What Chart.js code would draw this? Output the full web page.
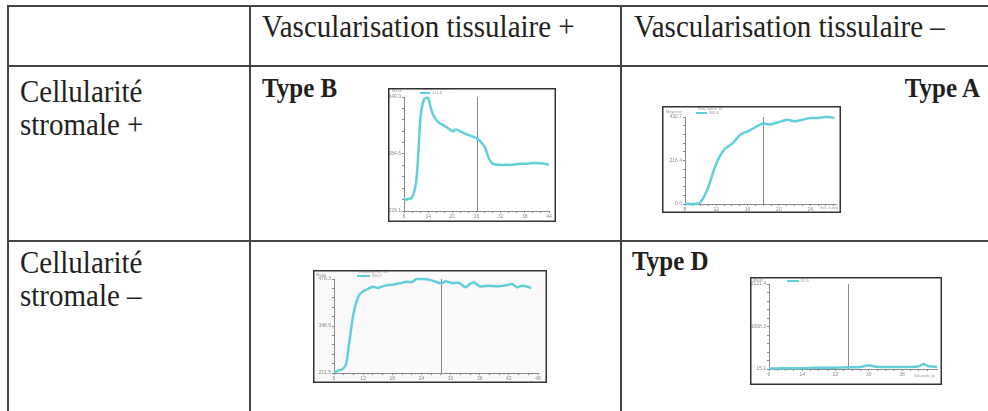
<!DOCTYPE html>
<html>
<head>
<meta charset="utf-8">
<script src="https://cdn.jsdelivr.net/npm/chart.js@4.4.1/dist/chart.umd.min.js"></script>
<style>
  body { margin: 0; background: #fff; }
  #page { position: relative; width: 988px; height: 411px; overflow: hidden; background: #fff; }
  .hl, .vl { position: absolute; background: #444; }
  .hl { left: 7px; right: 0; height: 2px; }
  .vl { top: 5px; bottom: 0; width: 2px; }
  .txt {
    position: absolute; white-space: nowrap; color: #231f20;
    font-family: "Liberation Serif", "Times New Roman", serif;
    font-size: 29px; line-height: 30.3px;
    transform: scaleY(1.09); transform-origin: top left;
  }
  .type {
    position: absolute; white-space: nowrap; color: #231f20;
    font-family: "Liberation Serif", "Times New Roman", serif;
    font-size: 25px; font-weight: bold; line-height: 25px;
    transform: scaleY(1.1); transform-origin: top left;
  }
  canvas { position: absolute; }
</style>
</head>
<body>
<div id="page">
  <div class="hl" style="top:5px"></div>
  <div class="hl" style="top:65px"></div>
  <div class="hl" style="top:240px"></div>
  <div class="vl" style="left:7px"></div>
  <div class="vl" style="left:249px"></div>
  <div class="vl" style="left:620px"></div>

  <div class="txt" style="left:262px; top:10px">Vascularisation tissulaire +</div>
  <div class="txt" style="left:634px; top:10px">Vascularisation tissulaire –</div>
  <div class="txt" style="left:20px; top:75px">Cellularité<br>stromale +</div>
  <div class="txt" style="left:20px; top:246px">Cellularité<br>stromale –</div>

  <div class="type" style="left:262px; top:74px">Type B</div>
  <div class="type" style="right:8px; top:74px; transform-origin: top right">Type A</div>
  <div class="type" style="left:632px; top:247px">Type D</div>

  <canvas id="typeB" width="168" height="134" style="left:388px; top:88px"></canvas>
  <canvas id="typeA" width="179" height="107" style="left:662px; top:106px"></canvas>
  <canvas id="typeC" width="234" height="113" style="left:313px; top:270px"></canvas>
  <canvas id="typeD" width="192" height="108" style="left:750px; top:277px"></canvas>
</div>

<script>
// Enhancement curves (mean signal vs time) for each panel
const typeBTime = [8, 9.9, 11, 11.6, 12.1, 13, 14, 14.6, 15.3, 16.5, 18.6, 20.1, 21, 22.7, 24.4, 26, 26.8, 28.1, 29.1, 30.1, 31.8, 33.5, 35.1, 36.7, 38.4, 40, 42.5, 44];
const typeBMean = [240, 242, 257, 288, 320, 338, 339, 330, 322, 315.5, 310.6, 306.7, 308.4, 305.1, 302.5, 300, 297.6, 291, 280, 275, 274, 274, 274, 275, 275, 275.7, 275.4, 274];
const typeBXTicks = [8, 14, 20, 26, 32, 38, 44];
const typeBYTicks = [229.1, 284.6, 340.0];
const typeBMarker = 26;

const typeATime = [8, 9.4, 10, 10.9, 11.9, 13, 14.1, 15.1, 16, 16.8, 18, 18.8, 19.4, 20.3, 21.1, 22, 23, 24, 25, 25.8, 26.5, 27.1];
const typeAMean = [0, 0, 10, 76, 192, 270, 303, 346, 361, 378, 400, 396, 400, 411, 419, 411, 419, 428, 428, 433, 433, 428];
const typeAXTicks = [8, 12, 16, 20, 24];
const typeAYTicks = [0, 216.4, 432.7];
const typeAMarker = 18;

const typeCTime = [6, 6.9, 7.8, 8.5, 9.1, 10, 11, 12, 13.4, 14, 15.1, 16.4, 18, 19.5, 20.9, 21.9, 23, 24.6, 26.3, 28, 29, 30.1, 31.8, 33, 33.8, 34.8, 36, 37.9, 39.6, 41.8, 42.7, 43.7, 44.7, 45.8, 46.6];
const typeCMean = [223, 227.8, 232.3, 245.9, 300, 381.4, 428.4, 442.9, 451.9, 455.5, 451.9, 458.2, 461, 464.6, 469.1, 467.3, 476.3, 476.3, 471.8, 464.6, 470, 465.5, 465.5, 453.7, 461, 467.3, 456.4, 458.2, 456.4, 460, 462.7, 453.7, 458.2, 455.5, 451.9];
const typeCXTicks = [6, 12, 18, 24, 30, 36, 42, 48];
const typeCYTicks = [221.5, 348.9, 476.3];
const typeCMarker = 28.1;

const typeDTime = [6, 9.1, 12.3, 15.5, 18.7, 21.9, 25.1, 28, 30, 31.6, 34.8, 38, 40.4, 42, 43.2, 44.4, 46.4];
const typeDMean = [23, 31, 31, 40, 48, 48, 56, 65, 106, 73, 65, 65, 65, 81, 139, 81, 65];
const typeDXTicks = [6, 14, 22, 30, 38];
const typeDYTicks = [15.2, 1068.3, 2121.4];
const typeDMarker = 25.1;

const CURVE = '#62cfda';
const SANS = '"Liberation Sans", Arial, sans-serif';

// major ticks get a label, minor ones only a tick mark
function tickList(majors, parts, max) {
  const out = [];
  for (let i = 0; i < majors.length; i++) {
    out.push({ value: majors[i], lbl: String(majors[i]) });
    const next = i < majors.length - 1 ? majors[i + 1] : null;
    const step = next !== null ? (next - majors[i]) / parts : (majors[i] - majors[i - 1]) / parts;
    for (let k = 1; k < parts; k++) {
      const v = majors[i] + step * k;
      if (next === null && v > max + 1e-6) break;
      out.push({ value: v, lbl: '' });
    }
  }
  return out;
}

// frame, mean label, mini legend and the injection marker
const panelDecor = {
  id: 'panelDecor',
  beforeDraw(chart, args, o) {
    const ctx = chart.ctx;
    ctx.save();
    ctx.fillStyle = o.background;
    ctx.fillRect(0, 0, chart.width, chart.height);
    ctx.restore();
  },
  beforeDatasetsDraw(chart, args, o) {
    const ctx = chart.ctx, area = chart.chartArea;
    const x = chart.scales.x.getPixelForValue(o.marker);
    ctx.save();
    ctx.strokeStyle = '#8a8a8a';
    ctx.lineWidth = 1;
    ctx.beginPath();
    ctx.moveTo(Math.round(x) + 0.5, area.top);
    ctx.lineTo(Math.round(x) + 0.5, area.bottom);
    ctx.stroke();
    ctx.restore();
  },
  afterDraw(chart, args, o) {
    const ctx = chart.ctx;
    ctx.save();
    ctx.font = '4px ' + SANS;
    ctx.fillStyle = '#999';
    ctx.textBaseline = 'middle';
    ctx.fillText(o.title, o.titleX, o.titleY);
    ctx.fillText(o.seriesName, o.legendX + 2, o.legendY - 4);
    ctx.fillText(o.seriesValue, o.legendX + o.legendW + 2, o.legendY);
    if (o.unit) ctx.fillText(o.unit, o.unitX, o.unitY);
    ctx.strokeStyle = CURVE;
    ctx.lineWidth = 2;
    ctx.beginPath();
    ctx.moveTo(o.legendX, o.legendY);
    ctx.lineTo(o.legendX + o.legendW, o.legendY);
    ctx.stroke();
    ctx.strokeStyle = '#333';
    ctx.lineWidth = 1.5;
    ctx.strokeRect(0.75, 0.75, chart.width - 1.5, chart.height - 1.5);
    ctx.restore();
  }
};

function makePanel(id, time, mean, xTicks, yTicks, xMax, cfg) {
  const axisFont = { size: 5, family: SANS };
  return new Chart(document.getElementById(id), {
    type: 'line',
    data: {
      datasets: [{
        data: time.map((t, i) => ({ x: t, y: mean[i] })),
        borderColor: CURVE,
        borderWidth: 2.5,
        pointRadius: 0,
        tension: 0.25,
        clip: false
      }]
    },
    options: {
      responsive: false,
      animation: false,
      devicePixelRatio: 1,
      layout: { padding: { top: cfg.top, right: cfg.right, left: 0, bottom: 0 } },
      plugins: {
        legend: { display: false },
        tooltip: { enabled: false },
        panelDecor: cfg.decor
      },
      scales: {
        x: {
          type: 'linear',
          bounds: 'data',
          min: xTicks[0],
          max: xMax,
          afterBuildTicks: s => { s.ticks = tickList(xTicks, cfg.xParts, xMax); },
          afterFit: s => { s.height = cfg.xHeight; },
          ticks: {
            autoSkip: false, maxRotation: 0, padding: 1,
            font: axisFont, color: '#8a8a8a',
            callback: (v, i, t) => t[i].lbl
          },
          grid: { drawOnChartArea: false, tickLength: 2, color: '#8a8a8a' },
          border: { color: '#8a8a8a' }
        },
        y: {
          type: 'linear',
          bounds: 'data',
          min: yTicks[0],
          max: yTicks[yTicks.length - 1],
          afterBuildTicks: s => {
            s.ticks = tickList(yTicks, 5, yTicks[yTicks.length - 1]).map(t => ({
              value: t.value, lbl: t.lbl ? Number(t.value).toFixed(1) : ''
            }));
          },
          afterFit: s => { s.width = cfg.yWidth; },
          ticks: {
            autoSkip: false, padding: 1,
            font: axisFont, color: '#8a8a8a',
            callback: (v, i, t) => t[i].lbl
          },
          grid: { drawOnChartArea: false, tickLength: 2, color: '#8a8a8a' },
          border: { color: '#8a8a8a' }
        }
      }
    },
    plugins: [panelDecor]
  });
}

makePanel('typeB', typeBTime, typeBMean, typeBXTicks, typeBYTicks, 44, {
  top: 9, right: 7, yWidth: 16, xHeight: 11, xParts: 3,
  decor: {
    background: '#ffffff', marker: typeBMarker,
    title: 'Mean', titleX: 4, titleY: 3,
    seriesName: 'Sample Ref. 16', seriesValue: '413.6', legendX: 32, legendY: 5, legendW: 10
  }
});

makePanel('typeA', typeATime, typeAMean, typeAXTicks, typeAYTicks, 27.3, {
  top: 11, right: 5, yWidth: 23, xHeight: 9, xParts: 4,
  decor: {
    background: '#ffffff', marker: typeAMarker,
    title: 'Moyenne', titleX: 4, titleY: 6,
    seriesName: 'Res. value 16', seriesValue: '385.6', legendX: 34, legendY: 7, legendW: 11,
    unit: 'Sec. (unit)', unitX: 158, unitY: 102
  }
});

makePanel('typeC', typeCTime, typeCMean, typeCXTicks, typeCYTicks, 48, {
  top: 9, right: 9, yWidth: 21, xHeight: 10, xParts: 3,
  decor: {
    background: '#fbf9f9', marker: typeCMarker,
    title: 'Mean', titleX: 3, titleY: 5,
    seriesName: 'Reading Ref. 28', seriesValue: '460.7', legendX: 44, legendY: 6, legendW: 13
  }
});

makePanel('typeD', typeDTime, typeDMean, typeDXTicks, typeDYTicks, 46.4, {
  top: 7, right: 5, yWidth: 19, xHeight: 16, xParts: 4,
  decor: {
    background: '#ffffff', marker: typeDMarker,
    title: 'Mean', titleX: 3, titleY: 3,
    seriesName: 'Ref. 11', seriesValue: '62.6', legendX: 37, legendY: 4, legendW: 12,
    unit: 'Seconds (s)', unitX: 164, unitY: 99
  }
});
</script>
</body>
</html>
